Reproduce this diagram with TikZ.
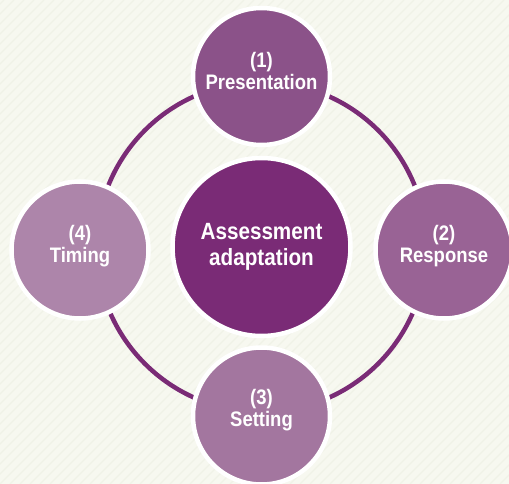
\documentclass[tikz,border=0pt]{standalone}
\usepackage{fontspec}
\setmainfont{Liberation Sans}[FakeStretch=0.88]
\definecolor{bgc}{RGB}{247,248,240}
\definecolor{stripe}{RGB}{240,242,231}
\definecolor{ringc}{RGB}{122,43,118}
\definecolor{cmain}{RGB}{122,43,118}
\definecolor{cone}{RGB}{139,82,137}
\definecolor{ctwo}{RGB}{153,99,149}
\definecolor{cthree}{RGB}{163,118,159}
\definecolor{cfour}{RGB}{173,133,170}
\tikzset{
  bubble/.style={circle, draw=white, line width=4.5pt, inner sep=0pt, minimum size=#1},
  lbl/.style={text=white, font=\bfseries\fontsize{21}{21.5}\selectfont, align=center, inner sep=0pt},
  mainlbl/.style={text=white, font=\bfseries\fontsize{23.5}{26}\selectfont, align=center, inner sep=0pt},
}
\begin{document}
\begin{tikzpicture}[x=1pt,y=-1pt]
\useasboundingbox (0,0) rectangle (509,484);
\clip (0,0) rectangle (509,484);
\fill[bgc] (0,0) rectangle (509,484);
\foreach \k in {-500,-490,...,520} {
  \draw[stripe, line width=1.2pt] (\k,484) -- (\k+484,0);
}
\coordinate (hub) at (261.5,247);
\draw[ringc, line width=4.5pt] (hub) circle[radius=165];
\node[bubble=178pt, fill=cmain] (main) at (hub) {};
\node[bubble=137pt, fill=cone] (one) at (261.5,76.5) {};
\node[bubble=137pt, fill=ctwo] (two) at (444,250) {};
\node[bubble=137pt, fill=cthree] (three) at (261.5,416) {};
\node[bubble=137pt, fill=cfour] (four) at (80,250) {};
\node[mainlbl] (mainT) at (261.5,247) {Assessment\\adaptation};
\node[lbl] (oneT) at (261.5,71) {(1)\\Presentation};
\node[lbl] (twoT) at (444,246) {(2)\\Response};
\node[lbl] (threeT) at (261.5,410) {(3)\\Setting};
\node[lbl] (fourT) at (80,246) {(4)\\Timing};
\end{tikzpicture}
\end{document}
